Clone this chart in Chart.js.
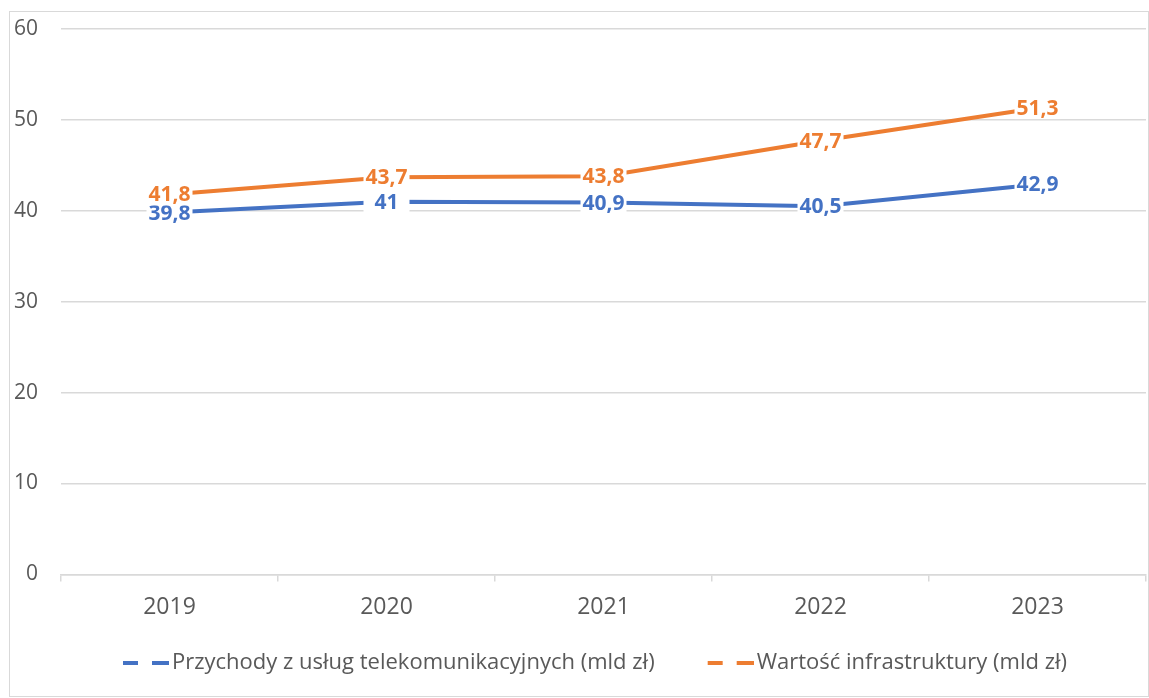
<!DOCTYPE html>
<html lang="pl">
<head>
<meta charset="utf-8">
<script src="https://cdn.jsdelivr.net/npm/chart.js@4/dist/chart.umd.min.js"></script>
<style>
    html, body { margin: 0; padding: 0; background: #fff; }
    .wrap {
        position: absolute; left: 9px; top: 11px;
        width: 1138px; height: 684px;
        border: 1px solid #d9d9d9;
    }
</style>
</head>
<body>
<div class="wrap"><canvas id="chartLinhas"></canvas></div>
<script>
// DADOS
const lata = ['2019', '2020', '2021', '2022', '2023'];
const przychody = [39.8, 41.0, 40.9, 40.5, 42.9];
const infrastruktura = [41.8, 43.7, 43.8, 47.7, 51.3];
const yTicks = [0, 10, 20, 30, 40, 50, 60];

const AZUL = '#4472C4';
const LARANJA = '#ED7D31';
const CINZA = '#595959';
const FONTE = "'Open Sans', 'Noto Sans', sans-serif";

const formatNum = (v) => new Intl.NumberFormat('pl-PL', { maximumFractionDigits: 1 }).format(v);

// ícone da legenda: traço interrompido, com folga transparente à esquerda
const iconeLegenda = (cor) => {
    const c = document.createElement('canvas');
    c.width = 88;
    c.height = 4;
    const g = c.getContext('2d');
    g.fillStyle = cor;
    g.fillRect(42, 0, 15, 4);
    g.fillRect(71, 0, 17, 4);
    return c;
};

// rótulos no centro de cada ponto, com fundo branco
const rotulos = {
    id: 'rotulos',
    afterDatasetsDraw: (chart) => {
        const ctx = chart.ctx;
        ctx.save();
        ctx.font = `bold 21px ${FONTE}`;
        ctx.textAlign = 'center';
        ctx.textBaseline = 'middle';
        chart.data.datasets.forEach((ds, i) => {
            const meta = chart.getDatasetMeta(i);
            meta.data.forEach((pt, j) => {
                const txt = formatNum(ds.data[j]);
                const w = Math.max(ctx.measureText(txt).width + 4, 46);
                ctx.fillStyle = '#fff';
                ctx.fillRect(pt.x - w / 2, pt.y - 11, w, 22);
                ctx.fillStyle = ds.borderColor;
                ctx.fillText(txt, pt.x, pt.y + 1);
            });
        });
        ctx.restore();
    }
};

const ctx = document.getElementById('chartLinhas');
new Chart(ctx, {
    type: 'line',
    data: {
        labels: lata,
        datasets: [
            { label: 'Przychody z usług telekomunikacyjnych (mld zł)', data: przychody, borderColor: AZUL, backgroundColor: AZUL, borderWidth: 4, pointRadius: 0, tension: 0 },
            { label: 'Wartość infrastruktury (mld zł)', data: infrastruktura, borderColor: LARANJA, backgroundColor: LARANJA, borderWidth: 4, pointRadius: 0, tension: 0 }
        ]
    },
    options: {
        responsive: true,
        maintainAspectRatio: false,
        animation: false,
        layout: { padding: { top: 17, right: 2, left: 0, bottom: 12 } },
        scales: {
            x: {
                offset: true,
                grid: { offset: true, drawOnChartArea: false, drawTicks: true, tickLength: 7, color: '#d9d9d9', lineWidth: 1.5 },
                border: { display: true, color: '#d9d9d9', width: 1.5 },
                ticks: { color: CINZA, font: { family: FONTE, size: 23 }, padding: 12 }
            },
            y: {
                min: 0, max: 60,
                afterBuildTicks: (s) => { s.ticks = yTicks.map(v => ({ value: v })); },
                afterFit: (s) => { s.width = 51; },
                grid: { color: '#d9d9d9', lineWidth: 1.5, drawTicks: true, tickLength: 23, tickColor: 'rgba(0,0,0,0)' },
                border: { display: false },
                ticks: { color: CINZA, font: { family: FONTE, size: 21 }, padding: 0 }
            }
        },
        plugins: {
            legend: {
                position: 'bottom',
                labels: {
                    color: CINZA,
                    font: { family: FONTE, size: 22 },
                    usePointStyle: true,
                    pointStyleWidth: 72,
                    padding: 19,
                    generateLabels: (chart) => chart.data.datasets.map((ds, i) => ({
                        text: ds.label,
                        strokeStyle: ds.borderColor,
                        fillStyle: ds.borderColor,
                        fontColor: CINZA,
                        lineWidth: 0,
                        pointStyle: iconeLegenda(ds.borderColor),
                        datasetIndex: i
                    }))
                }
            },
            tooltip: { enabled: false }
        }
    },
    plugins: [rotulos]
});
</script>
</body>
</html>
